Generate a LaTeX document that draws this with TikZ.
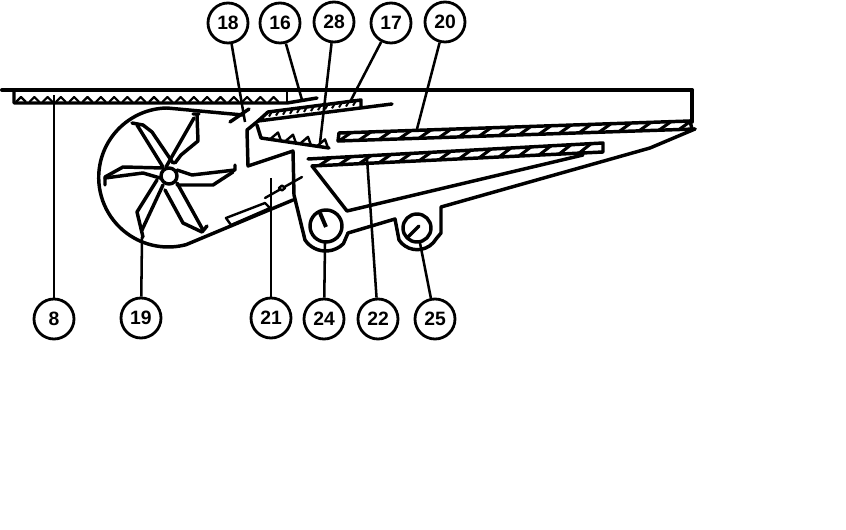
\documentclass[tikz,border=0pt]{standalone}
\usepackage{fontspec}
\setmainfont{Liberation Sans}
\tikzset{
  ln/.style={line width=2.6pt,line cap=round,line join=round},
  thn/.style={line width=1.8pt,line cap=round,line join=round},
  hatchbar/.style={line width=2.3pt},
  lead/.style={line width=1.9pt},
  num/.style={circle,draw,line width=2.1pt,fill=white,minimum size=30pt,inner sep=0pt,font=\bfseries\fontsize{14.5}{14.5}\selectfont}
}
\begin{document}
\begin{tikzpicture}[x=0.75pt,y=-0.75pt]
\useasboundingbox (0,0) rectangle (846,530);
% nodes
\node[num] (n18) at (228,23) {18};
\node[num] (n16) at (280,23) {16};
\node[num] (n28) at (334,22) {28};
\node[num] (n17) at (391,23) {17};
\node[num] (n20) at (445,22) {20};
\node[num] (n8) at (54,319) {8};
\node[num] (n19) at (141,318) {19};
\node[num] (n21) at (271,318) {21};
\node[num] (n24) at (324,319) {24};
\node[num] (n22) at (378,319) {22};
\node[num] (n25) at (435,319) {25};
% free ends
\coordinate (c18) at (245,122);
\coordinate (c16) at (302,100);
\coordinate (c28) at (320,143);
\coordinate (c17) at (350,102);
\coordinate (c20) at (417,129);
\coordinate (c8) at (54,95);
\coordinate (c19) at (142,237);
\coordinate (c21) at (271,178);
\coordinate (c24) at (325,243);
\coordinate (c22) at (367,158);
\coordinate (c25) at (420,243);
\foreach \a/\b in {n18/c18,n16/c16,n28/c28,n17/c17,n20/c20,n8/c8,n19/c19,n21/c21,n24/c24,n22/c22,n25/c25}
  \draw[lead] (\a) -- (\b);
% top bar and box
\draw[ln,line width=3pt] (2,90) -- (692,90);
\draw[ln] (692,90) -- (692,122);
\draw[ln] (14,91) -- (14,103) -- (287,103) -- (317,98);
\draw[thn] (287,90) -- (287,103);
\foreach \x in {21,34.3,...,280}
  \draw[line width=1.6pt,line join=round] (\x-5,102) -- (\x,97) -- (\x+5,102);
% drum
\draw[ln] (243,115) -- (167,108) arc[start angle=269,end angle=75,radius=69.5] -- (293,200);
\draw[ln] (230,122) -- (249,109);
\draw[thn] (226,218) -- (265,203) -- (270,208) -- (231,225) -- cycle;
% fan
\draw[ln] (169,176) circle[radius=8];
\draw[ln] (175,163) -- (181,155) -- (198,141) -- (197,115) (193,114) -- (199,114);
\draw[ln] (166,167) -- (194,118);
\draw[ln] (132,123) -- (143,125) -- (152,132) -- (173,163);
\draw[ln] (137,125) -- (163,167);
\draw[ln] (105,185) -- (105,177) -- (123,167) -- (163,168);
\draw[ln] (105,178) -- (143,173) -- (160,178);
\draw[ln] (143,237) -- (137,212) -- (157,180);
\draw[ln] (142,230) -- (163,185);
\draw[ln] (207,226) -- (202,232) -- (183,223) -- (165,190);
\draw[ln] (203,230) -- (177,183);
\draw[ln] (235,165) -- (235,170) -- (192,175) -- (177,170);
\draw[ln] (233,172) -- (213,185) -- (177,185);
% housing
\draw[ln] (258,121) -- (247,130) -- (248,166) -- (293,151) -- (294,195) -- (305,240)
  arc[start angle=146,end angle=45,radius=25] -- (348,233) -- (395,219) -- (399,240)
  arc[start angle=146,end angle=30,radius=22] -- (441,233) -- (441,207) -- (650,148) -- (695,129);
% sieve 17
\draw[ln] (258,121) -- (268,112) -- (361,100) -- (361,107) (258,121) -- (392,104);
\foreach \x in {272,279,...,356}
  \draw[line width=1.5pt] (\x,{112-(\x-268)*0.129}) -- (\x-3,{112-(\x-268)*0.129+5});
% teeth 28
\draw[ln] (257,125) -- (261,138) -- (329,148);
\foreach \x in {278,293,308,325}
  \draw[thn] (\x-8,{138+(\x-8-261)*0.147}) -- (\x,{138+(\x-261)*0.147-8}) -- (\x+3,{138+(\x+3-261)*0.147});
% sieve 20
\draw[ln] (339,133) -- (690,121);
\draw[ln] (338,141) -- (695,129);
\draw[ln] (339,133) -- (338,141);
\draw[ln] (690,121) -- (692,129);
\foreach \x in {345,365,...,685}
  \draw[hatchbar] ({\x+6},{133-(\x+6-339)*0.0342}) -- ({\x-6},{141-(\x-6-338)*0.0336});
% sieve 22
\draw[ln] (308,159) -- (603,143) -- (603,152) -- (312,166);
\foreach \x in {325,345,...,600}
  \draw[hatchbar] ({\x+6},{159-(\x+6-308)*0.0542}) -- ({\x-6},{166-(\x-6-312)*0.0481});
% lower panel
\draw[ln] (312,166) -- (347,211) -- (583,155);
% valve
\draw[thn] (265,198) -- (302,177);
\draw[thn,fill=white] (282,185.5) -- (285,188) -- (282,190.5) -- (279,188) -- cycle;
% gauges
\draw[ln] (326,226) circle[radius=16];
\draw[line width=3pt] (320,213) -- (326,227);
\draw[ln] (417,228) circle[radius=14];
\draw[ln] (408,237) -- (419,226);
\end{tikzpicture}
\end{document}
